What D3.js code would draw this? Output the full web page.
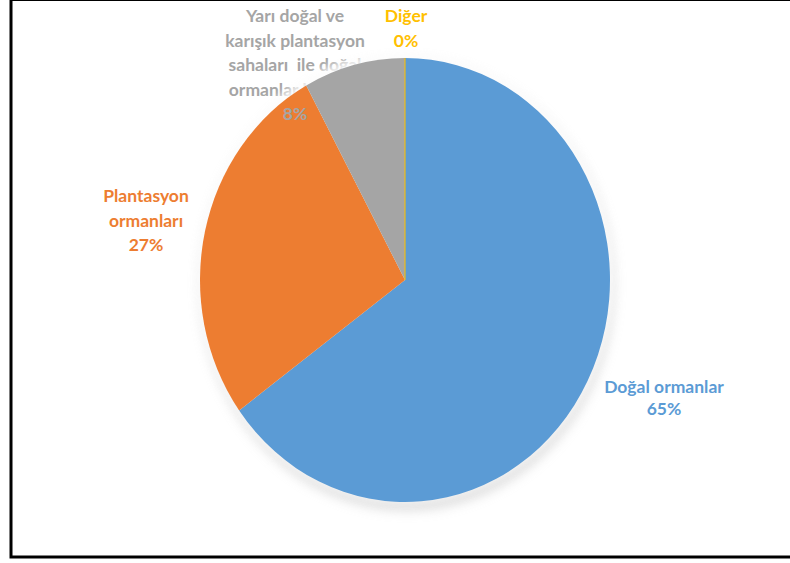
<!DOCTYPE html>
<html><head><meta charset="utf-8">
<script src="https://cdn.jsdelivr.net/npm/d3@7"></script>
<style>html,body{margin:0;padding:0;background:#fff;}svg{display:block;}</style>
</head><body>
<script>
const categories = ["Doğal ormanlar", "Plantasyon ormanları", "Yarı doğal ve karışık plantasyon sahaları ile doğal ormanlar bölümü", "Diğer"];
const values = [65, 27, 8, 0.0001];
const percentLabels = ["65%", "27%", "8%", "0%"];
const labelLines = [["Doğal ormanlar"], ["Plantasyon", "ormanları"], ["Yarı doğal ve", "karışık plantasyon", "sahaları  ile doğal", "ormanlar bölümü"], ["Diğer"]];
const colors = ["#5B9BD5", "#ED7D31", "#A5A5A5", "#FFC000"];
const labelColors = ["#5B9BD5", "#ED7D31", "#A5A5A5", "#FFC000"];

const W = 790, H = 563;
const cx = 405, cy = 280, rx = 205, ry = 222;
const svg = d3.select("body").append("svg").attr("width", W).attr("height", H);
const defs = svg.append("defs");
const sh = defs.append("filter").attr("id","shadow").attr("x","-20%").attr("y","-20%").attr("width","140%").attr("height","140%");
sh.append("feGaussianBlur").attr("stdDeviation", 6);
const glow = defs.append("filter").attr("id","glow").attr("x","-20%").attr("y","-20%").attr("width","140%").attr("height","140%");
glow.append("feGaussianBlur").attr("stdDeviation", 4);

svg.append("rect").attr("width", W).attr("height", H).attr("fill", "#fff");

const labelPos = [[664, 393], [146, 202], [295, 22], [406, 22]];
const lineH = 24.5;
const font = "Lato, 'Noto Sans', sans-serif";

function drawLines(g, i, from, to) {
  const lines = labelLines[i].concat([percentLabels[i]]);
  const t = g.append("text").attr("text-anchor", "middle")
    .attr("font-family", font).attr("font-weight", "bold").attr("font-size", 17.5)
    .attr("fill", labelColors[i]);
  lines.forEach((l, k) => {
    if (k < from || k >= to) return;
    t.append("tspan").attr("x", labelPos[i][0]).attr("y", labelPos[i][1] + k * (i === 0 ? 22 : lineH))
      .attr("xml:space", "preserve").text(l);
  });
}

const under = svg.append("g");
drawLines(under, 2, 0, labelLines[2].length);

const pie = d3.pie().sort(null).value(d => d);
const arcs = pie(values);
const arc = d3.arc().innerRadius(0).outerRadius(rx);
const sy = ry / rx;

svg.append("ellipse").attr("cx", cx + 2).attr("cy", cy + 5).attr("rx", rx + 2).attr("ry", ry + 3)
  .attr("fill", "#bdbdbd").attr("opacity", 0.55).attr("filter", "url(#shadow)");
svg.append("ellipse").attr("cx", cx).attr("cy", cy - 3).attr("rx", rx + 4).attr("ry", ry + 4)
  .attr("fill", "#fff").attr("opacity", 0.85).attr("filter", "url(#glow)");

const pg = svg.append("g").attr("transform", `translate(${cx},${cy}) scale(1,${sy})`);
pg.selectAll("path").data(arcs).join("path")
  .attr("d", arc).attr("fill", (d, i) => colors[i])
  .attr("stroke", (d, i) => i === 3 ? colors[3] : "none").attr("stroke-width", 0.6);

const over = svg.append("g");
drawLines(over, 0, 0, 9); drawLines(over, 1, 0, 9); drawLines(over, 3, 0, 9);
drawLines(over, 2, labelLines[2].length, 9);

svg.append("rect").attr("x", 11).attr("y", -0.5).attr("width", 820).attr("height", 557.5)
  .attr("fill", "none").attr("stroke", "#000").attr("stroke-width", 3);
</script>
</body></html>
